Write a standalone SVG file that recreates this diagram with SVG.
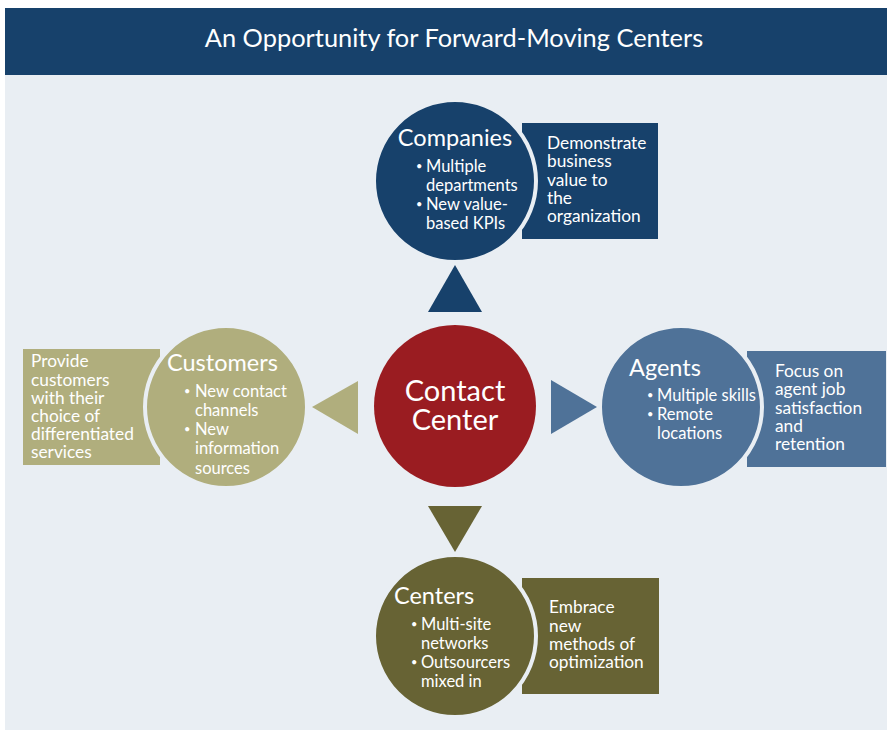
<svg xmlns="http://www.w3.org/2000/svg" width="887" height="730" viewBox="0 0 887 730">
  <style>
    text { font-family: Lato, "Open Sans", "DejaVu Sans", sans-serif; fill: #ffffff; }
    .title { font-size: 25.4px; }
    .head { font-size: 23.5px; }
    .item { font-size: 16.5px; }
    .dot { font-size: 11px; }
    .note { font-size: 17.3px; }
    .big { font-size: 29px; }
    .gap { stroke: #e9eef3; stroke-width: 4; }
  </style>

  <!-- page -->
  <rect x="0" y="0" width="887" height="730" fill="#ffffff"/>
  <rect x="5" y="75" width="882" height="655" fill="#e9eef3"/>

  <g id="header">
    <rect x="5" y="8" width="882" height="67" fill="#17416b"/>
    <text class="title" x="454" y="47" text-anchor="middle">An Opportunity for Forward-Moving Centers</text>
  </g>

  <!-- arrows pointing from the hub to each group -->
  <g id="connectors">
    <polygon points="428,312 482,312 455,265" fill="#17416b"/>
    <polygon points="358,381 358,434 312,407" fill="#b0ae7d"/>
    <polygon points="551,380 551,434 597,407" fill="#4f7298"/>
    <polygon points="428,506 482,506 455,552" fill="#676334"/>
  </g>

  <g id="contact-center">
    <circle cx="455" cy="406" r="81" fill="#9a1c21"/>
    <text class="big" x="455" y="401" text-anchor="middle">Contact</text>
    <text class="big" x="455" y="430" text-anchor="middle">Center</text>
  </g>

  <g id="companies">
    <rect x="522" y="123" width="136" height="116" fill="#17416b"/>
    <circle class="gap" cx="455" cy="181" r="81" fill="#17416b"/>
    <text class="head" x="455" y="146" text-anchor="middle">Companies</text>
    <text class="dot" x="416" y="170">•</text>
    <text class="item" x="426" y="172">Multiple</text>
    <text class="item" x="426" y="191">departments</text>
    <text class="dot" x="416" y="208">•</text>
    <text class="item" x="426" y="210">New value-</text>
    <text class="item" x="426" y="229">based KPIs</text>
    <text class="note" x="547" y="149">Demonstrate</text>
    <text class="note" x="547" y="167">business</text>
    <text class="note" x="547" y="186">value to</text>
    <text class="note" x="547" y="204">the</text>
    <text class="note" x="547" y="222">organization</text>
  </g>

  <g id="customers">
    <rect x="23" y="349" width="137" height="116" fill="#b0ae7d"/>
    <circle class="gap" cx="226" cy="407" r="81" fill="#b0ae7d"/>
    <text class="head" x="167" y="371">Customers</text>
    <text class="dot" x="184" y="395">•</text>
    <text class="item" x="195" y="397">New contact</text>
    <text class="item" x="195" y="416">channels</text>
    <text class="dot" x="184" y="433">•</text>
    <text class="item" x="195" y="435">New</text>
    <text class="item" x="195" y="454">information</text>
    <text class="item" x="195" y="474">sources</text>
    <text class="note" x="31" y="367">Provide</text>
    <text class="note" x="31" y="386">customers</text>
    <text class="note" x="31" y="404">with their</text>
    <text class="note" x="31" y="422">choice of</text>
    <text class="note" x="31" y="440">differentiated</text>
    <text class="note" x="31" y="458">services</text>
  </g>

  <g id="agents">
    <rect x="747" y="351" width="139" height="116" fill="#4f7298"/>
    <circle class="gap" cx="681" cy="407" r="81" fill="#4f7298"/>
    <text class="head" x="629" y="376">Agents</text>
    <text class="dot" x="647" y="399">•</text>
    <text class="item" x="657" y="401">Multiple skills</text>
    <text class="dot" x="647" y="418">•</text>
    <text class="item" x="657" y="420">Remote</text>
    <text class="item" x="657" y="439">locations</text>
    <text class="note" x="775" y="377">Focus on</text>
    <text class="note" x="775" y="395">agent job</text>
    <text class="note" x="775" y="414">satisfaction</text>
    <text class="note" x="775" y="432">and</text>
    <text class="note" x="775" y="450">retention</text>
  </g>

  <g id="centers">
    <rect x="522" y="578" width="137" height="116" fill="#676334"/>
    <circle class="gap" cx="455" cy="636" r="81" fill="#676334"/>
    <text class="head" x="394" y="604">Centers</text>
    <text class="dot" x="411" y="628">•</text>
    <text class="item" x="421" y="630">Multi-site</text>
    <text class="item" x="421" y="649">networks</text>
    <text class="dot" x="411" y="666">•</text>
    <text class="item" x="421" y="668">Outsourcers</text>
    <text class="item" x="421" y="687">mixed in</text>
    <text class="note" x="549" y="613">Embrace</text>
    <text class="note" x="549" y="632">new</text>
    <text class="note" x="549" y="650">methods of</text>
    <text class="note" x="549" y="668">optimization</text>
  </g>
</svg>
